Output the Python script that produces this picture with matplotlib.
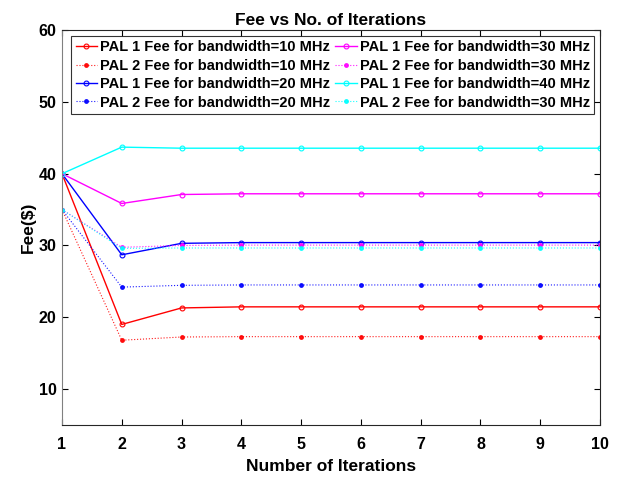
import numpy as np
from matplotlib import pyplot as plt

plt.rcParams['font.family'] = ['Liberation Sans', 'DejaVu Sans']
plt.rcParams['font.weight'] = 'bold'

iterations = np.arange(1, 11)

pal1_10 = [40, 19.0, 21.3, 21.45, 21.45, 21.45, 21.45, 21.45, 21.45, 21.45]
pal2_10 = [35, 16.8, 17.25, 17.3, 17.3, 17.3, 17.3, 17.3, 17.3, 17.3]
pal1_20 = [40, 28.7, 30.3, 30.4, 30.4, 30.4, 30.4, 30.4, 30.4, 30.4]
pal2_20 = [35, 24.2, 24.45, 24.5, 24.5, 24.5, 24.5, 24.5, 24.5, 24.5]
pal1_30 = [40, 35.85, 37.1, 37.2, 37.2, 37.2, 37.2, 37.2, 37.2, 37.2]
pal2_30 = [35, 29.75, 30.0, 30.05, 30.05, 30.05, 30.05, 30.05, 30.05, 30.05]
pal1_40 = [40, 43.7, 43.55, 43.55, 43.55, 43.55, 43.55, 43.55, 43.55, 43.55]
pal2_30b = [35, 29.6, 29.65, 29.65, 29.65, 29.65, 29.65, 29.65, 29.65, 29.65]

fig = plt.figure(figsize=(6.18, 4.78), dpi=100)
ax = fig.add_axes([0.1003, 0.111, 0.8706, 0.826])

ax.plot(iterations, pal1_10, '-o', color='red', lw=1, ms=3.5, mfc='none', mew=0.8,
        label='PAL 1 Fee for bandwidth=10 MHz')
ax.plot(iterations, pal2_10, ':o', color='red', lw=0.8, ms=2.5, alpha=0.9,
        label='PAL 2 Fee for bandwidth=10 MHz')
ax.plot(iterations, pal1_20, '-o', color='blue', lw=1, ms=3.5, mfc='none', mew=0.8,
        label='PAL 1 Fee for bandwidth=20 MHz')
ax.plot(iterations, pal2_20, ':o', color='blue', lw=0.8, ms=2.5, alpha=0.9,
        label='PAL 2 Fee for bandwidth=20 MHz')
ax.plot(iterations, pal1_30, '-o', color='magenta', lw=1, ms=3.5, mfc='none', mew=0.8,
        label='PAL 1 Fee for bandwidth=30 MHz')
ax.plot(iterations, pal2_30, ':o', color='magenta', lw=0.8, ms=2.5, alpha=0.9,
        label='PAL 2 Fee for bandwidth=30 MHz')
ax.plot(iterations, pal1_40, '-o', color='cyan', lw=1, ms=3.5, mfc='none', mew=0.8,
        label='PAL 1 Fee for bandwidth=40 MHz')
ax.plot(iterations, pal2_30b, ':o', color='cyan', lw=0.8, ms=2.5, alpha=0.9,
        label='PAL 2 Fee for bandwidth=30 MHz')

ax.set_xlim(1, 10)
ax.set_ylim(5, 60)
ax.set_xticks(iterations)
ax.set_yticks([10, 20, 30, 40, 50, 60])
ax.tick_params(direction='in', top=True, right=True, labelsize=11.5, length=4)
ax.tick_params(axis='x', pad=9)
ax.tick_params(axis='y', pad=4)
for s in ax.spines.values():
    s.set_color('#262626')
    s.set_linewidth(0.8)
ax.spines['left'].set_color('#808080')

ax.set_title('Fee vs No. of Iterations', fontsize=12.5, fontweight='bold', pad=4)
ax.set_xlabel('Number of Iterations', fontsize=12.5, fontweight='bold', labelpad=5)
ax.set_ylabel('Fee($)', fontsize=12.5, fontweight='bold', labelpad=2)

leg = ax.legend(ncol=2, loc='upper right', bbox_to_anchor=(0.989, 0.985), borderaxespad=0,
                fontsize=10.5, frameon=True, fancybox=False, edgecolor='black',
                handlelength=1.5, handletextpad=0.2, columnspacing=0.3,
                labelspacing=0.3, borderpad=0.3)
leg.get_frame().set_linewidth(0.8)

plt.savefig('out.png', dpi=100)
